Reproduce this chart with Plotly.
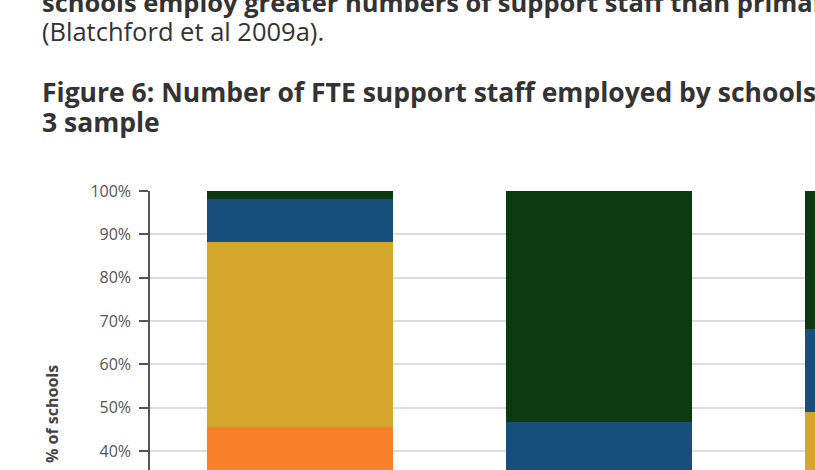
import plotly.graph_objects as go

# ---- data ----
schools = ["Primary", "Secondary", "Special"]
band_names = ["Band A", "Band B", "Band C", "Band D"]
band_a = [45.5, 0.0, 20.0]    # orange
band_b = [42.7, 0.0, 29.1]    # yellow
band_c = [10.0, 46.6, 19.1]   # blue
band_d = [1.8, 53.4, 31.8]    # dark green
tick_vals = [40, 50, 60, 70, 80, 90, 100]
tick_text = ["40%", "50%", "60%", "70%", "80%", "90%", "100%"]

colors = ["#F8812A", "#D3A62B", "#174E7B", "#0C3A10"]
series = [band_a, band_b, band_c, band_d]

W, H = 815, 470
T, L = 191, 150
PH = H - T

def py(y):  # pixel y (from top) -> paper y
    return (H - y) / PH

def px(x):
    return (x - L) / (W - L)

fig = go.Figure()
for name, vals, c in zip(band_names, series, colors):
    fig.add_trace(go.Bar(x=schools, y=vals, name=name, marker=dict(color=c, line=dict(width=0))))

FONT = "Open Sans"
TXT = "#333333"
anns = [
    dict(text="<b>schools employ greater numbers of support staff than primary schools</b>", x=40, y=14, size=25.5),
    dict(text="(Blatchford et al 2009a).", x=40, y=43, size=25.5),
    dict(text="<b>Figure 6: Number of FTE support staff employed by schools in the DISS Wave</b>", x=40, y=105, size=26.5),
    dict(text="<b>3 sample</b>", x=40, y=135, size=26.5),
]
annotations = []
for a in anns:
    annotations.append(dict(
        text=a["text"], xref="paper", yref="paper", x=px(a["x"]), y=py(a["y"] + a["size"] * 0.28),
        xanchor="left", yanchor="bottom", showarrow=False,
        font=dict(family=FONT, size=a["size"], color=TXT),
    ))
annotations.append(dict(
    text="<b>% of schools</b>", xref="paper", yref="paper", x=px(52), y=py(414),
    xanchor="center", yanchor="middle", textangle=-90, showarrow=False,
    font=dict(family=FONT, size=16, color="#444444"),
))

fig.update_layout(
    width=W, height=H,
    margin=dict(l=L, r=0, t=T, b=0, pad=0),
    barmode="stack", bargap=0.378,
    showlegend=False,
    plot_bgcolor="white", paper_bgcolor="white",
    annotations=annotations,
    xaxis=dict(range=[-0.5, 1.724], showticklabels=False, showgrid=False, zeroline=False, showline=False),
    yaxis=dict(range=[35.6, 100], tickvals=tick_vals, ticktext=tick_text,
               showgrid=True, gridcolor="#dcdcdc", gridwidth=1.5,
               showline=True, linecolor="#555555", linewidth=1.5,
               ticks="outside", ticklen=9, tickcolor="#555555", tickwidth=1.5,
               ticklabelstandoff=5,
               tickfont=dict(family=FONT, size=16, color="#555555"),
               zeroline=False),
)

fig.write_html("out.html")
